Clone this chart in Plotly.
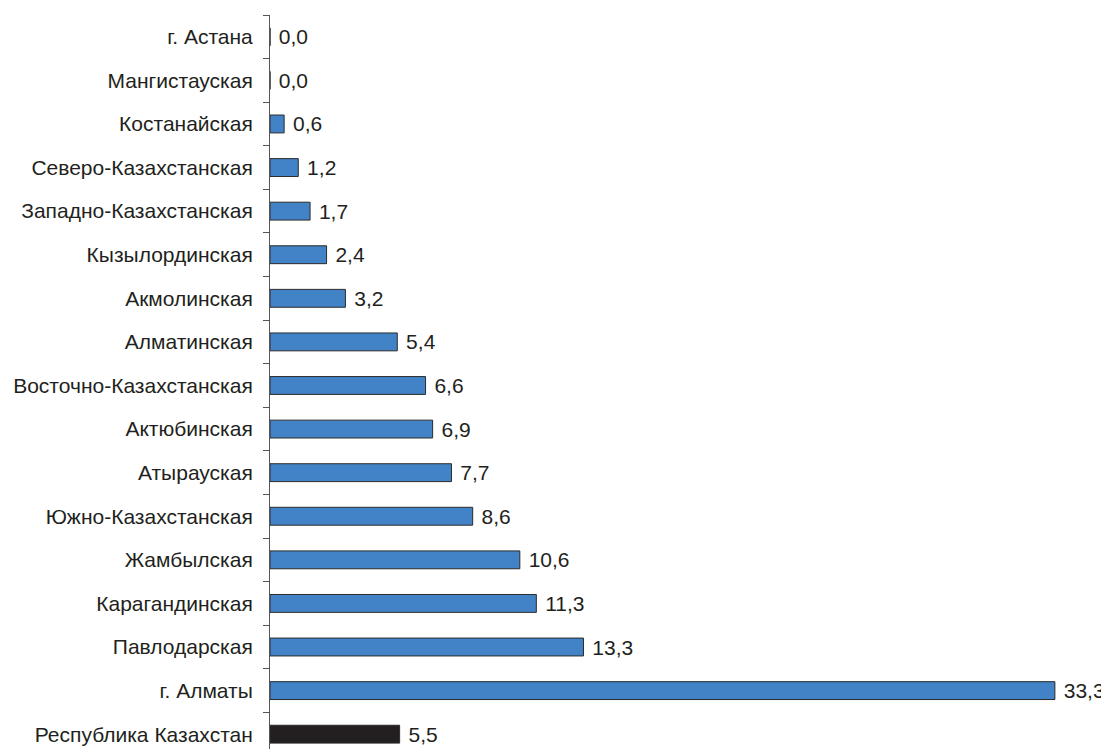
import plotly.graph_objects as go

categories = ["г. Астана", "Мангистауская", "Костанайская", "Северо-Казахстанская",
              "Западно-Казахстанская", "Кызылординская", "Акмолинская", "Алматинская",
              "Восточно-Казахстанская", "Актюбинская", "Атырауская", "Южно-Казахстанская",
              "Жамбылская", "Карагандинская", "Павлодарская", "г. Алматы",
              "Республика Казахстан"]
values = [0.0, 0.0, 0.6, 1.2, 1.7, 2.4, 3.2, 5.4, 6.6, 6.9, 7.7, 8.6, 10.6, 11.3, 13.3, 33.3, 5.5]

colors = ["#231f20" if c == "Республика Казахстан" else "#4282c6" for c in categories]
texts = [f"{v:.1f}".replace(".", ",") for v in values]

FONT = "Liberation Sans, Arial, Helvetica, sans-serif"

fig = go.Figure(go.Bar(
    y=categories, x=values, orientation="h",
    marker=dict(color=colors, line=dict(color="#2b2b2b", width=1)),
    text=texts, texttemplate="\u00a0%{text}", textposition="outside", cliponaxis=False,
    constraintext="none",
    textfont=dict(family=FONT, size=21, color="#231f20"),
))

fig.update_layout(
    width=1101, height=741,
    margin=dict(l=262, r=0, t=7, b=0, autoexpand=False),
    plot_bgcolor="white", paper_bgcolor="white",
    bargap=0.59, showlegend=False,
    font=dict(family=FONT, size=21, color="#231f20"),
    xaxis=dict(range=[0, 839 / 23.57], visible=False),
    yaxis=dict(range=[16.34, -0.5], showline=True, linecolor="#555555", linewidth=1,
               ticks="outside", ticklen=6, tickcolor="#555555", tickson="boundaries",
               ticklabelstandoff=12, showgrid=False, automargin=False),
)
fig.write_html("out.html")
